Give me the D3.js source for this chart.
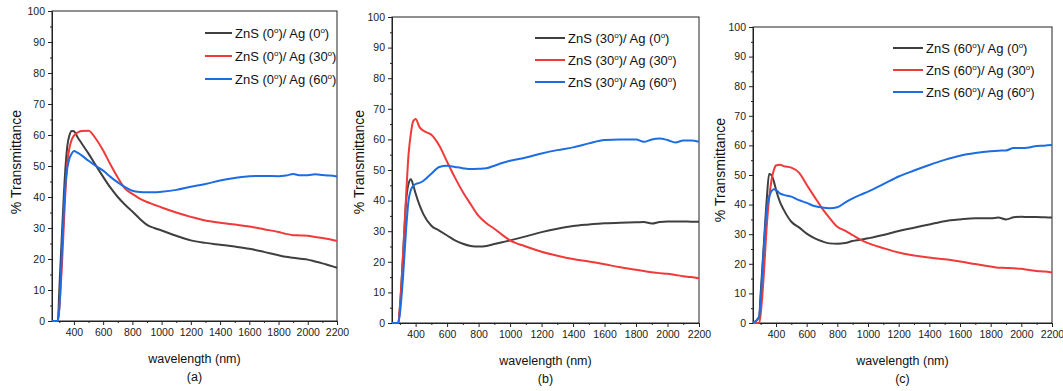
<!DOCTYPE html>
<html>
<head>
<meta charset="utf-8">
<script src="https://cdn.jsdelivr.net/npm/d3@7"></script>
<style>
  body { margin: 0; background: #fff; }
  svg { display: block; font-family: "Liberation Sans", Arial, sans-serif; }
</style>
</head>
<body>
<svg id="chart" width="1063" height="391"></svg>
<script>
// wavelength grid (nm) shared by every curve
var wavelength = [250, 290, 300, 320, 340, 355, 370, 385, 400, 425, 450, 500, 550, 600, 650, 700, 750, 800, 850, 900, 950,
    1000, 1100, 1200, 1300, 1400, 1500, 1600, 1700, 1800, 1850, 1900, 1950, 2000, 2050, 2100, 2150, 2200];

// panel (a) ZnS 0 deg
var a_ag0 = [0, 0, 10, 30, 48, 56.5, 60, 61.3, 61.2, 59.3, 57.5, 54, 50.2, 46.5, 43, 40, 37.5, 35.3, 33, 31, 30,
    29.2, 27.5, 26, 25.2, 24.6, 24, 23.3, 22.3, 21.2, 20.7, 20.4, 20.1, 19.8, 19.2, 18.6, 17.9, 17.2];
var a_ag30 = [0, 0, 4, 20, 40, 51, 56, 58.5, 59.8, 60.8, 61.3, 61.4, 58.8, 55, 50.5, 46.3, 42.7, 41, 39.5, 38.4, 37.5,
    36.6, 35, 33.6, 32.4, 31.7, 31.1, 30.5, 29.6, 28.7, 28.1, 27.7, 27.6, 27.5, 27.1, 26.8, 26.4, 25.8];
var a_ag60 = [0, 0, 4, 25, 43, 49.5, 52.5, 54, 54.8, 54.3, 53.5, 51.7, 50, 48.5, 46.5, 44.7, 43.2, 42, 41.6, 41.5, 41.5,
    41.7, 42.3, 43.3, 44.2, 45.3, 46.1, 46.7, 46.8, 46.7, 46.9, 47.4, 47, 47, 47.3, 47.1, 46.9, 46.6];

// panel (b) ZnS 30 deg
var b_ag0 = [0, 0, 5, 22, 40, 45.5, 47, 45, 42.3, 38.5, 35.5, 31.8, 30.2, 28.6, 27, 25.9, 25.2, 25, 25.2, 25.8, 26.4,
    27, 28.3, 29.7, 30.8, 31.7, 32.2, 32.6, 32.8, 32.9, 33, 32.5, 33, 33.2, 33.2, 33.2, 33.1, 33.1];
var b_ag30 = [0, 0, 5, 22, 42, 55, 62, 66, 66.7, 64, 62.8, 61.5, 58, 52.7, 47.5, 42.8, 38.8, 35, 32.6, 30.8, 28.8,
    27, 25, 23.3, 22, 20.9, 20.1, 19.2, 18.2, 17.4, 17, 16.6, 16.3, 16.1, 15.7, 15.3, 15, 14.6];
var b_ag60 = [0, 0, 3, 15, 31, 40, 43.5, 44.8, 45.4, 45.8, 46.5, 48.8, 51, 51.4, 51, 50.6, 50.3, 50.4, 50.6, 51.4, 52.3,
    53, 54.1, 55.4, 56.5, 57.4, 58.7, 59.8, 60, 60, 59.2, 60, 60.3, 59.8, 59, 59.6, 59.6, 59.2];

// panel (c) ZnS 60 deg
var c_ag0 = [0, 2, 10, 26, 42, 50.3, 50, 48, 45, 41, 38.3, 34.2, 32.3, 30.2, 28.7, 27.6, 26.9, 26.8, 27, 27.7, 28.1,
    28.6, 29.7, 31.1, 32.2, 33.3, 34.4, 35, 35.4, 35.4, 35.6, 35, 35.7, 35.9, 35.8, 35.8, 35.7, 35.6];
var c_ag30 = [0, 0, 3, 16, 33, 42, 48, 51.5, 53.2, 53.5, 53, 52.5, 50.8, 46.7, 42.7, 38.8, 35.4, 32.5, 31.2, 29.7, 28.2,
    27, 25.3, 23.8, 22.8, 22.1, 21.5, 20.8, 19.9, 19.1, 18.7, 18.6, 18.5, 18.3, 17.9, 17.6, 17.4, 17.1];
var c_ag60 = [0, 2, 8, 25, 38.5, 42.5, 44.5, 45.2, 45, 43.8, 43.3, 42.7, 41.5, 40.6, 39.5, 39, 38.8, 39.1, 40.7, 42.1, 43.3,
    44.4, 46.9, 49.5, 51.5, 53.4, 55.1, 56.5, 57.4, 58, 58.2, 58.3, 59.1, 59.1, 59.3, 59.8, 59.9, 60.1];

var xTickValues = [400, 600, 800, 1000, 1200, 1400, 1600, 1800, 2000, 2200];
var xMinorValues = [300, 500, 700, 900, 1100, 1300, 1500, 1700, 1900, 2100];
var yTickValues = [0, 10, 20, 30, 40, 50, 60, 70, 80, 90, 100];
var yMinorValues = [5, 15, 25, 35, 45, 55, 65, 75, 85, 95];
var znsAngles = ["0", "30", "60"];
var agAngles = ["0", "30", "60"];
var panelTags = ["(a)", "(b)", "(c)"];

var colors = ["#3f3f3f", "#f03a3a", "#1c6de2"];

var panels = [
    {series: [a_ag0, a_ag30, a_ag60], left: 52, top: 11, right: 337, bottom: 321, legX: 205, legW: 27, legY: 33, legStep: 23, ylabX: 21, ylabY: 162},
    {series: [b_ag0, b_ag30, b_ag60], left: 392, top: 17, right: 699, bottom: 323, legX: 535, legW: 30, legY: 38, legStep: 22, ylabX: 364, ylabY: 162},
    {series: [c_ag0, c_ag30, c_ag60], left: 753, top: 27, right: 1052, bottom: 323, legX: 893, legW: 30, legY: 48, legStep: 22, ylabX: 725, ylabY: 170}
];

var svg = d3.select("#chart");

panels.forEach(function(p, pi) {
    var x = d3.scaleLinear().domain([250, 2200]).range([p.left, p.right]);
    var y = d3.scaleLinear().domain([0, 100]).range([p.bottom, p.top]);

    var g = svg.append("g");

    // frame
    g.append("rect")
        .attr("x", p.left).attr("y", p.top)
        .attr("width", p.right - p.left).attr("height", p.bottom - p.top)
        .attr("fill", "none").attr("stroke", "#222").attr("stroke-width", 1);

    // axes
    var bottomAxis = d3.axisBottom(x).tickValues(xTickValues).tickFormat(d3.format("d"))
        .tickSize(4).tickPadding(4).tickSizeOuter(0);
    var leftAxis = d3.axisLeft(y).tickValues(yTickValues).tickFormat(d3.format("d"))
        .tickSize(4).tickPadding(3).tickSizeOuter(0);

    g.append("g").attr("transform", "translate(0," + p.bottom + ")").call(bottomAxis);
    g.append("g").attr("transform", "translate(0," + p.bottom + ")")
        .call(d3.axisBottom(x).tickValues(xMinorValues).tickSize(2).tickFormat("").tickSizeOuter(0));
    g.append("g").attr("transform", "translate(" + p.left + ",0)").call(leftAxis);
    g.append("g").attr("transform", "translate(" + p.left + ",0)")
        .call(d3.axisLeft(y).tickValues(yMinorValues).tickSize(2).tickFormat("").tickSizeOuter(0));

    g.selectAll(".domain").attr("stroke", "#222");
    g.selectAll(".tick line").attr("stroke", "#222");
    g.selectAll(".tick text").attr("font-size", 10.5).attr("fill", "#222")
        .attr("font-family", "Liberation Sans, Arial, sans-serif");

    // curves
    var line = d3.line()
        .x(function(d, i) { return x(wavelength[i]); })
        .y(function(d) { return y(d); })
        .curve(d3.curveMonotoneX);

    p.series.forEach(function(vals, si) {
        g.append("path")
            .datum(vals)
            .attr("fill", "none")
            .attr("stroke", colors[si])
            .attr("stroke-width", 2)
            .attr("stroke-linejoin", "round")
            .attr("d", line);
    });

    // legend
    agAngles.forEach(function(ag, si) {
        var ly = p.legY + si * p.legStep;
        g.append("line")
            .attr("x1", p.legX).attr("x2", p.legX + p.legW)
            .attr("y1", ly).attr("y2", ly)
            .attr("stroke", colors[si]).attr("stroke-width", 2);
        var t = g.append("text")
            .attr("x", p.legX + p.legW + 3).attr("y", ly + 4.5)
            .attr("font-size", 13).attr("fill", "#111");
        t.append("tspan").text("ZnS (" + znsAngles[pi]);
        t.append("tspan").attr("dy", -5).attr("font-size", 8).text("o");
        t.append("tspan").attr("dy", 5).text(")/ Ag (" + ag);
        t.append("tspan").attr("dy", -5).attr("font-size", 8).text("o");
        t.append("tspan").attr("dy", 5).text(")");
    });

    // axis titles
    var cx = (p.left + p.right) / 2;
    g.append("text")
        .attr("x", cx).attr("y", p.bottom + 42)
        .attr("text-anchor", "middle").attr("font-size", 12.5).attr("fill", "#111")
        .text("wavelength (nm)");
    g.append("text")
        .attr("x", cx).attr("y", p.bottom + 60)
        .attr("text-anchor", "middle").attr("font-size", 12.5).attr("fill", "#111")
        .text(panelTags[pi]);
    g.append("text")
        .attr("transform", "translate(" + p.ylabX + "," + p.ylabY + ") rotate(-90)")
        .attr("text-anchor", "middle").attr("font-size", 14).attr("fill", "#111")
        .text("% Transmittance");
});
</script>
</body>
</html>
